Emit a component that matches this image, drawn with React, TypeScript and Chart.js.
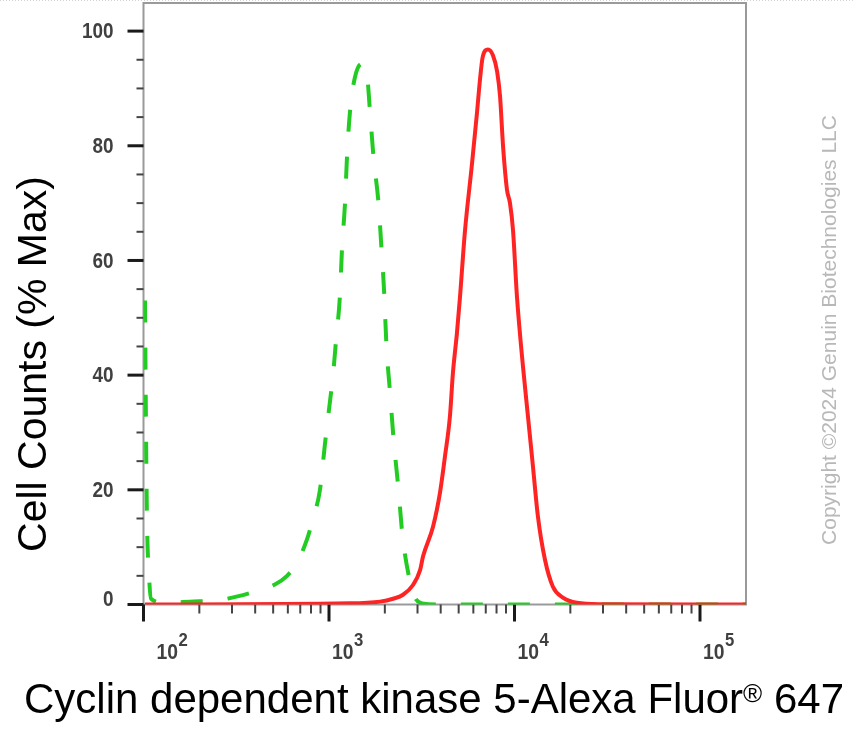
import React, { useEffect, useRef } from 'react';
import { Chart, registerables } from 'chart.js';

Chart.register(...registerables);

// ---- data (fluorescence intensity vs % of max cell count) ----
const greenX = [101.9, 103.2, 104.4, 107.1, 109.8, 130.5, 178, 258, 375, 511, 594, 672, 760, 820, 894, 951, 1000, 1051, 1091, 1146, 1175, 1220, 1250, 1298, 1381, 1506, 1603, 1663, 1738, 1849, 1919, 1979, 2042, 2133, 2227, 2370, 2490, 2734, 2908, 3172, 3967, 177000];
const greenY = [53, 30, 15, 5, 1, 0.3, 0.5, 0.8, 2, 3.5, 5, 7.3, 11.3, 15, 20, 28, 34, 40, 46, 54, 62, 70, 78, 86, 92, 94.3, 92.5, 86, 78, 70, 62, 55, 45, 37, 29, 20, 12, 4, 1.2, 0.2, 0, 0];
const redX = [101.9, 1298, 1884, 2214, 2506, 2837, 3097, 3214, 3640, 3966, 4218, 4486, 4657, 4896, 5080, 5403, 5906, 6275, 6514, 6740, 7192, 7649, 8054, 8358, 8673, 9113, 9455, 9816, 10310, 11110, 11820, 12580, 13380, 14600, 16110, 18240, 21710, 28900, 177000];
const redY = [0, 0.2, 0.5, 1, 1.7, 3.4, 6, 8.4, 13.6, 19.5, 25.8, 32.8, 40.4, 47.4, 53.5, 65, 77, 85.7, 91.5, 95.5, 96.8, 95.8, 93, 88.6, 80, 72.3, 70, 65.3, 53.7, 41.5, 32.8, 24, 15.3, 7.8, 3.1, 1.2, 0.3, 0.05, 0];

const yMajorTicks = [0, 20, 40, 60, 80, 100];
const yMinorStep = 5;
const xDecades = [2, 3, 4, 5];
const xMin = 100;
const xMax = 177000;
const yMin = 0;
const yMax = 104.9;

const xTitleMain = 'Cyclin dependent kinase 5-Alexa Fluor';
const xTitleSup = '®';
const xTitleEnd = ' 647';
const yTitle = 'Cell Counts (% Max)';
const watermark = 'Copyright ©2024 Genuin Biotechnologies LLC';

const FONT = '"Liberation Sans", Arial, Helvetica, sans-serif';

function condensedText(ctx: CanvasRenderingContext2D, text: string, x: number, y: number, sx: number) {
  ctx.save();
  ctx.translate(x, y);
  ctx.scale(sx, 1);
  ctx.fillText(text, 0, 0);
  ctx.restore();
}

const axesPlugin = {
  id: 'flowAxes',
  beforeDatasetsDraw(chart: any) {
    const { ctx, chartArea: a, scales } = chart;
    const xs = scales.x;
    const ys = scales.y;
    ctx.save();

    // faint dotted line at the very top
    ctx.strokeStyle = '#d4d4d4';
    ctx.lineWidth = 1;
    ctx.setLineDash([1, 2]);
    ctx.beginPath();
    ctx.moveTo(0, 0.5);
    ctx.lineTo(chart.width, 0.5);
    ctx.stroke();
    ctx.setLineDash([]);

    // frame
    ctx.strokeStyle = '#9a9a9a';
    ctx.lineWidth = 2;
    ctx.strokeRect(a.left, a.top, a.right - a.left, a.bottom - a.top);

    // y ticks
    for (let v = 0; v <= yMax; v += yMinorStep) {
      const py = ys.getPixelForValue(v);
      const major = yMajorTicks.includes(v);
      ctx.strokeStyle = major ? '#1a1a1a' : '#444';
      ctx.lineWidth = major ? 3 : 2;
      ctx.beginPath();
      ctx.moveTo(a.left - (major ? 16 : 7), py);
      ctx.lineTo(a.left, py);
      ctx.stroke();
    }
    // y labels
    ctx.fillStyle = '#404040';
    ctx.font = `bold 22px ${FONT}`;
    ctx.textAlign = 'right';
    ctx.textBaseline = 'middle';
    for (const v of yMajorTicks) {
      const py = ys.getPixelForValue(v) + (v === 0 ? -6 : 0);
      condensedText(ctx, String(v), a.left - 30, py + 1, 0.86);
    }

    // x ticks (log)
    for (const d of xDecades) {
      for (let k = 1; k <= 9; k++) {
        const v = k * Math.pow(10, d);
        if (v > xMax) break;
        const px = xs.getPixelForValue(v);
        const major = k === 1;
        ctx.strokeStyle = major ? '#1a1a1a' : '#444';
        ctx.lineWidth = major ? 3 : 2;
        ctx.beginPath();
        ctx.moveTo(px, a.bottom);
        ctx.lineTo(px, a.bottom + (major ? 17 : 9));
        ctx.stroke();
      }
    }
    // x labels 10^n
    ctx.textAlign = 'left';
    ctx.textBaseline = 'alphabetic';
    for (const d of xDecades) {
      const px = xs.getPixelForValue(Math.pow(10, d));
      const x0 = Math.max(px + 3, a.left + 13);
      ctx.font = `bold 22px ${FONT}`;
      const w = ctx.measureText('10').width * 0.88;
      condensedText(ctx, '10', x0, a.bottom + 54, 0.88);
      ctx.font = `bold 19px ${FONT}`;
      condensedText(ctx, String(d), x0 + w + 0.5, a.bottom + 41, 0.88);
    }

    // y title
    ctx.save();
    ctx.fillStyle = '#000';
    ctx.font = `41px ${FONT}`;
    ctx.textAlign = 'center';
    ctx.translate(46, 364);
    ctx.rotate(-Math.PI / 2);
    ctx.fillText(yTitle, 0, 0);
    ctx.restore();

    // x title with superscript
    ctx.fillStyle = '#000';
    ctx.font = `42px ${FONT}`;
    const w1 = ctx.measureText(xTitleMain).width;
    const w3 = ctx.measureText(xTitleEnd).width;
    ctx.font = `26px ${FONT}`;
    const w2 = ctx.measureText(xTitleSup).width;
    const total = w1 + w2 + w3;
    const sx = 434 - total / 2;
    const by = 713;
    ctx.font = `42px ${FONT}`;
    ctx.fillText(xTitleMain, sx, by);
    ctx.font = `26px ${FONT}`;
    ctx.fillText(xTitleSup, sx + w1, by - 11);
    ctx.font = `42px ${FONT}`;
    ctx.fillText(xTitleEnd, sx + w1 + w2, by);

    // watermark
    ctx.save();
    ctx.fillStyle = '#b8b8b8';
    ctx.font = `21px ${FONT}`;
    ctx.textAlign = 'center';
    ctx.translate(836, 330);
    ctx.rotate(-Math.PI / 2);
    ctx.fillText(watermark, 0, 0);
    ctx.restore();

    ctx.restore();
  },
};

export default function App() {
  const ref = useRef<HTMLCanvasElement | null>(null);
  useEffect(() => {
    if (!ref.current) return;
    const chart = new Chart(ref.current, {
      type: 'line',
      data: {
        datasets: [
          {
            label: 'Cyclin dependent kinase 5',
            data: redX.map((x, i) => ({ x, y: redY[i] })),
            borderColor: '#ff2424',
            borderWidth: 4,
            pointRadius: 0,
            fill: false,
            cubicInterpolationMode: 'monotone',
          },
          {
            label: 'Isotype control',
            data: greenX.map((x, i) => ({ x, y: greenY[i] })),
            borderColor: '#22cc22',
            borderWidth: 4,
            borderDash: [22, 25],
            pointRadius: 0,
            fill: false,
            cubicInterpolationMode: 'monotone',
          },
        ],
      },
      options: {
        animation: false,
        responsive: false,
        devicePixelRatio: 1,
        layout: { padding: { left: 143.5, right: 108, top: 3, bottom: 125.5 } },
        plugins: { legend: { display: false }, tooltip: { enabled: false } },
        scales: {
          x: { type: 'logarithmic', min: xMin, max: xMax, display: false },
          y: { type: 'linear', min: yMin, max: yMax, display: false },
        },
      },
      plugins: [axesPlugin],
    } as any);
    return () => chart.destroy();
  }, []);
  return (
    <div style={{ position: 'absolute', left: 0, top: 0, width: 854, height: 730, background: '#fff' }}>
      <canvas ref={ref} width={854} height={730} style={{ display: 'block', width: 854, height: 730 }} />
    </div>
  );
}
